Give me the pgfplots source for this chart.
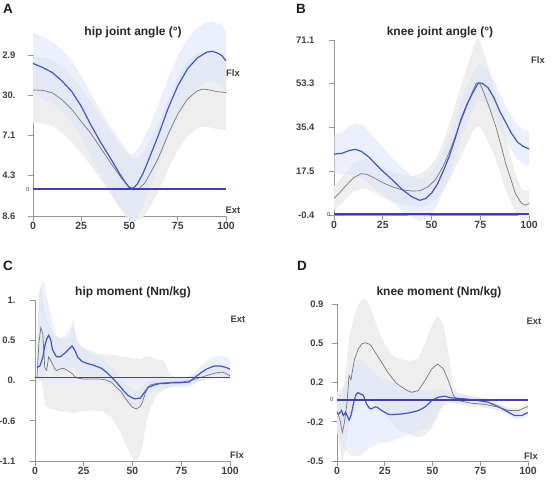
\documentclass[border=0pt]{standalone}
\usepackage{fontspec}
\setmainfont{Liberation Sans}
\usepackage{pgfplots}
\pgfplotsset{compat=1.18}
\usepackage{pgfplotstable}
\usepgfplotslibrary{fillbetween}

\definecolor{bl}{RGB}{66,86,196}
\definecolor{zl}{RGB}{70,62,168}
\definecolor{bband}{RGB}{220,227,249}
\definecolor{gband}{RGB}{238,238,238}
\definecolor{gl}{RGB}{120,120,120}
\definecolor{ax}{RGB}{150,150,150}

\pgfplotstableread{
x y
0 0
100 0
}\Zero

% ---------- Panel A: hip joint angle ----------
\pgfplotstableread{
x m lo hi
0 40.2 30.4 50.0
5 38.9 29.1 48.7
10 37.3 27.5 47.1
15 34.6 24.8 44.4
20 31.3 21.5 41.1
25 26.5 16.7 36.3
30 20.5 10.5 30.5
35 15.0 4.8 25.2
40 10.0 -0.5 20.5
45 4.8 -6.2 15.8
48 2.0 -9.0 13.0
50 0.4 -10.6 11.4
52 0.3 -10.7 11.3
54 1.6 -9.4 12.6
57 5.0 -5.5 15.5
60 9.5 -0.5 19.5
65 17.3 7.5 27.1
70 25.8 16.2 35.4
75 33.0 23.4 42.6
80 38.4 28.8 48.0
85 41.9 32.3 51.5
90 43.8 34.2 53.4
93 44.1 34.5 53.7
96 43.4 33.8 53.0
98 42.6 33.0 52.2
100 41.0 31.4 50.6
}\Abl
\pgfplotstableread{
x m lo hi
0 31.7 21.1 42.3
5 31.6 21.0 42.2
10 30.8 20.2 41.4
15 28.6 18.1 39.1
20 25.6 15.2 36.0
25 21.6 11.3 31.9
30 17.8 7.6 28.0
35 13.2 3.1 23.3
40 8.6 -1.4 18.6
45 4.2 -5.8 14.2
49 1.2 -8.8 11.2
52 -0.3 -10.3 9.7
55 0.2 -9.9 10.3
58 2.0 -8.3 12.3
62 6.5 -4.1 17.1
65 10.0 -0.8 20.8
70 17.5 6.3 28.7
75 24.0 12.4 35.6
80 28.8 16.9 40.7
85 31.4 19.4 43.4
88 32.0 20.0 44.0
91 31.8 19.8 43.8
95 31.2 19.2 43.2
100 30.9 18.9 42.9
}\Agr

% ---------- Panel B: knee joint angle ----------
\pgfplotstableread{
x m lo hi
0 24.5 16.7 32.3
4 24.8 16.1 33.5
8 26.0 16.0 36.0
11 26.4 15.8 37.0
14 25.6 14.6 36.6
18 23.2 12.6 33.8
21 20.7 10.4 31.0
25 17.5 7.9 27.1
30 13.9 4.9 22.9
35 10.0 1.2 18.8
40 7.0 -1.6 15.6
44 5.6 -2.9 14.1
47 6.3 -2.1 14.7
50 8.5 0.1 16.9
53 12.2 3.9 20.5
56 17.5 9.3 25.7
59 23.4 15.3 31.5
62 30.5 22.6 38.4
65 38.4 30.6 46.2
68 44.5 36.9 52.1
71 49.3 41.9 56.7
74 53.6 46.3 60.9
76 53.4 46.1 60.7
79 51.6 44.3 58.9
82 47.5 40.3 54.7
85 42.0 34.8 49.2
88 37.5 30.4 44.6
91 33.0 25.9 40.1
94 29.5 22.4 36.6
97 27.6 20.6 34.6
100 26.6 19.6 33.6
}\Bbl
\pgfplotstableread{
x m lo hi
0 6.4 1.4 11.4
3 8.8 3.6 14.0
6 11.5 6.1 16.9
10 14.8 9.1 20.5
14 16.5 10.5 22.5
17 16.2 10.2 22.2
21 14.6 8.6 20.6
25 12.8 6.8 18.8
30 11.1 5.1 17.1
35 9.9 3.9 15.9
40 9.4 3.4 15.4
44 9.5 2.7 16.3
48 11.0 3.6 18.4
52 14.0 5.6 22.4
56 19.5 9.5 29.5
60 27.0 15.0 39.0
64 35.7 21.9 49.5
68 44.0 28.5 59.5
71 50.0 33.5 67.0
73 53.5 35.5 71.5
75 53.0 35.5 70.5
77 49.3 33.0 65.6
80 42.8 27.8 57.8
83 35.7 22.2 49.2
86 27.0 15.0 39.0
88 20.7 9.7 31.7
91 13.5 4.5 22.5
93 8.4 0.4 16.4
96 4.5 -1.5 10.5
98 3.6 -2.0 9.2
100 4.3 -1.2 9.8
}\Bgr

% ---------- Panel C: hip moment ----------
\pgfplotstableread{
x m lo hi
1 0.13 0.0 0.45
2.5 0.15 -0.05 1.15
4 0.26 -0.05 1.25
5 0.41 0.05 1.2
6 0.50 0.15 1.05
7 0.55 0.2 0.95
8 0.50 0.2 0.85
9 0.36 0.1 0.7
11 0.27 0.05 0.55
13 0.27 0.05 0.52
15 0.31 0.08 0.55
17 0.36 0.12 0.6
19 0.41 0.15 0.68
20.5 0.35 0.12 0.6
22 0.26 0.06 0.48
24 0.21 0.03 0.4
27 0.18 0.02 0.34
30 0.16 0.02 0.3
34 0.12 0.0 0.25
37 0.06 -0.05 0.18
39 0.01 -0.1 0.13
42 -0.07 -0.18 0.05
44 -0.13 -0.24 -0.01
46 -0.19 -0.3 -0.07
48 -0.24 -0.36 -0.12
51 -0.28 -0.4 -0.16
54 -0.27 -0.39 -0.15
56 -0.20 -0.31 -0.09
58 -0.13 -0.22 -0.04
61 -0.10 -0.17 -0.03
64 -0.08 -0.14 -0.02
67 -0.08 -0.14 -0.02
70 -0.07 -0.13 -0.01
74 -0.07 -0.13 -0.01
79 -0.06 -0.13 0.01
82 0.00 -0.08 0.08
85 0.06 -0.03 0.15
88 0.11 0.0 0.22
92 0.15 0.03 0.27
95 0.15 0.03 0.28
98 0.13 0.02 0.26
100 0.11 0.0 0.24
}\Cbl
\pgfplotstableread{
x m lo hi
1 0.00 -0.1 0.2
2 0.45 -0.05 1.1
3 0.65 0.0 1.2
4 0.57 -0.15 1.05
4.5 0.35 -0.25 0.95
5 0.13 -0.35 0.85
6 0.09 -0.38 0.75
7 0.27 -0.4 0.7
8.5 0.20 -0.41 0.62
10 0.12 -0.42 0.55
11 0.09 -0.43 0.52
13 0.11 -0.44 0.5
14.5 0.12 -0.45 0.5
16 0.10 -0.45 0.5
18 0.07 -0.46 0.55
19.5 0.04 -0.46 0.75
20 0.02 -0.46 0.74
21 0.00 -0.46 0.5
22 -0.01 -0.45 0.42
25 -0.02 -0.44 0.38
29 -0.02 -0.43 0.34
33 -0.02 -0.44 0.31
36 -0.03 -0.46 0.30
39 -0.06 -0.52 0.30
41 -0.11 -0.6 0.29
44 -0.18 -0.72 0.28
46 -0.26 -0.85 0.27
48 -0.33 -0.95 0.26
50 -0.39 -1.05 0.25
52 -0.41 -1.09 0.25
54 -0.38 -1.0 0.24
55 -0.33 -0.9 0.25
57 -0.17 -0.6 0.27
59 -0.10 -0.4 0.27
62 -0.08 -0.25 0.24
66 -0.07 -0.16 0.22
69 -0.065 -0.13 0.05
72 -0.06 -0.11 0.0
75 -0.06 -0.1 0.0
80 -0.04 -0.08 0.02
85 0.00 -0.05 0.06
90 0.04 -0.02 0.11
93 0.06 0.0 0.14
96 0.07 0.0 0.15
98 0.05 -0.01 0.12
100 0.02 -0.03 0.09
}\Cgr

% ---------- Panel D: knee moment ----------
\pgfplotstableread{
x m lo hi
0 -0.12 -0.3 0.05
1 -0.125 -0.33 0.08
2.4 -0.095 -0.38 0.1
3.3 -0.14 -0.42 0.12
4.5 -0.11 -0.45 0.15
6.3 -0.18 -0.48 0.2
7.3 -0.14 -0.5 0.25
8.3 -0.06 -0.5 0.3
9 -0.006 -0.5 0.33
10 0.05 -0.5 0.35
11 0.065 -0.5 0.36
12 0.055 -0.5 0.36
13.8 0.04 -0.48 0.35
15.5 -0.036 -0.45 0.32
17 -0.075 -0.43 0.28
18 -0.08 -0.42 0.26
20 -0.062 -0.4 0.24
21 -0.065 -0.4 0.22
23.4 -0.095 -0.38 0.2
27 -0.13 -0.38 0.17
30 -0.13 -0.36 0.14
34 -0.125 -0.33 0.1
38 -0.115 -0.3 0.09
42.6 -0.095 -0.28 0.08
46 -0.065 -0.26 0.08
49.6 -0.006 -0.2 0.09
53 0.024 -0.1 0.1
56.5 0.033 -0.05 0.09
58 0.025 -0.03 0.07
60 0.018 -0.03 0.06
67 0.009 -0.03 0.05
74 -0.006 -0.04 0.03
79 -0.02 -0.05 0.01
84.5 -0.06 -0.09 -0.03
89.7 -0.11 -0.14 -0.08
93 -0.14 -0.17 -0.11
96.7 -0.14 -0.17 -0.11
99 -0.12 -0.15 -0.09
100 -0.115 -0.14 -0.09
}\Dbl
\pgfplotstableread{
x m lo hi
0 -0.10 -0.25 0.08
1.6 -0.18 -0.45 0.05
2.8 -0.29 -0.55 0.05
3.8 -0.21 -0.5 0.15
5.2 -0.036 -0.35 0.35
6.3 0.217 -0.2 0.55
7.3 0.18 -0.18 0.62
9 0.35 -0.1 0.75
11 0.45 -0.05 0.85
13 0.50 0.0 0.89
14.7 0.51 0.02 0.9
16.5 0.50 0.02 0.86
18 0.48 0.0 0.8
20.5 0.41 -0.05 0.68
23.4 0.335 -0.1 0.55
26 0.26 -0.15 0.47
28.6 0.20 -0.2 0.41
31 0.15 -0.25 0.38
34 0.113 -0.28 0.36
37 0.08 -0.3 0.35
39 0.068 -0.32 0.35
42.6 0.083 -0.33 0.37
46 0.172 -0.32 0.5
49.6 0.276 -0.25 0.66
52.7 0.32 -0.15 0.75
55.7 0.276 -0.02 0.68
58.3 0.172 0.01 0.42
61 0.039 -0.02 0.12
63.5 -0.006 -0.04 0.06
70.5 -0.03 -0.06 0.03
77.5 -0.04 -0.07 0.0
84.5 -0.065 -0.09 -0.04
89.7 -0.095 -0.12 -0.07
95 -0.095 -0.12 -0.07
99 -0.065 -0.09 -0.04
100 -0.06 -0.085 -0.035
}\Dgr

\pgfplotsset{
  panel/.style={
    scale only axis, clip=false, anchor=south west,
    xmin=0, xmax=100, enlargelimits=false,
    axis x line*=bottom, axis y line*=left,
    axis line style={ax, line width=0.8pt, -},
    xtick={0,25,50,75,100},
    tick style={ax, line width=0.8pt},
    tick align=outside, major tick length=5bp,
    /pgf/number format/assume math mode=true,
    xticklabel style={font=\fontsize{10.5}{12}\selectfont\bfseries, text=black!75, yshift=2bp},
    yticklabel style={font=\fontsize{9.5}{11}\selectfont\bfseries, text=black!75},
  },
  zeroline/.style={draw={rgb,255:red,70;green,62;blue,168}, line width=1.7pt, mark=none},
}

% #1 blue table, #2 grey table, #3 unique prefix for path names
\newcommand{\drawpanel}[3]{%
  \addplot[name path=#3gh, draw=none, forget plot] table[x=x,y=hi]{#2};
  \addplot[name path=#3gl, draw=none, forget plot] table[x=x,y=lo]{#2};
  \addplot[gband, forget plot] fill between[of=#3gh and #3gl];
  \addplot[name path=#3bh, draw=none, forget plot] table[x=x,y=hi]{#1};
  \addplot[name path=#3bl, draw=none, forget plot] table[x=x,y=lo]{#1};
  \addplot[bband, fill opacity=0.55, forget plot] fill between[of=#3bh and #3bl];
  \addplot[gl, line width=0.7pt] table[x=x,y=m]{#2};
  \addplot[bl, line width=1.2pt] table[x=x,y=m]{#1};
  \addplot[zeroline] table[x=x,y=y]{\Zero};
}

\begin{document}
\begin{tikzpicture}

% Panel A
\begin{axis}[panel, at={(33bp,-216bp)}, width=193bp, height=161bp,
  ymin=-8.6, ymax=42.9, ytick={-8.6,4.3,17.1,30,42.9},
  yticklabels={8.6,4.3,7.1,30.,2.9}, yticklabel style={xshift=-9bp}]
  \drawpanel{\Abl}{\Agr}{pa}
  \node[font=\fontsize{6}{7}\selectfont, text=black!75, anchor=east] at (axis cs:0,0) {0};
\end{axis}

% Panel B
\begin{axis}[panel, at={(334bp,-215bp)}, width=195bp, height=175bp,
  ymin=-0.4, ymax=71.1, ytick={-0.4,17.5,35.4,53.3,71.1},
  yticklabels={-0.4,17.5,35.4,53.3,71.1}, yticklabel style={xshift=-11bp}]
  \drawpanel{\Bbl}{\Bgr}{pb}
  \node[font=\fontsize{6}{7}\selectfont, text=black!75, anchor=east] at (axis cs:0,0) {0};
\end{axis}

% Panel C
\begin{axis}[panel, at={(35bp,-461bp)}, width=195bp, height=161bp,
  ymin=-1.09, ymax=1.01, ytick={-1.09,-0.565,-0.04,0.485,1.01},
  yticklabels={-1.1,-0.6,0.,0.5,1.}, yticklabel style={xshift=-11bp}]
  \drawpanel{\Cbl}{\Cgr}{pc}
  \addplot[zeroline] table[x=x,y=y]{\Zero};
\end{axis}

% Panel D
\begin{axis}[panel, at={(337bp,-461bp)}, width=191bp, height=157bp,
  ymin=-0.545, ymax=0.855, ytick={-0.545,-0.195,0.155,0.505,0.855},
  yticklabels={-0.5,-0.2,0.2,0.5,0.9}, yticklabel style={xshift=-5bp}]
  \drawpanel{\Dbl}{\Dgr}{pd}
  \node[font=\fontsize{6}{7}\selectfont, text=black!75, anchor=east] at (axis cs:0,0) {0};
\end{axis}

% Titles
\begin{scope}[every node/.style={font=\fontsize{12}{14}\selectfont\bfseries, text=black!85}]
\node at (133bp,-32bp) {hip joint angle (°)};
\node at (440bp,-32bp) {knee joint angle (°)};
\node at (133bp,-292bp) {hip moment (Nm/kg)};
\node at (439bp,-292bp) {knee moment (Nm/kg)};
\end{scope}

% Panel letters
\begin{scope}[every node/.style={font=\fontsize{13.5}{15}\selectfont\bfseries, text=black!90}]
\node at (8bp,-9bp) {A};
\node at (301bp,-9bp) {B};
\node at (8bp,-266bp) {C};
\node at (302bp,-266bp) {D};
\end{scope}

% Flx / Ext
\begin{scope}[every node/.style={font=\fontsize{9.5}{11}\selectfont\bfseries, text=black!75}]
\node at (233bp,-73bp) {Flx};
\node at (233bp,-210bp) {Ext};
\node at (538bp,-60bp) {Flx};
\node at (238bp,-319bp) {Ext};
\node at (237bp,-455bp) {Flx};
\node at (534bp,-321bp) {Ext};
\node at (531bp,-456bp) {Flx};
\end{scope}

\pgfresetboundingbox
\path[use as bounding box] (0,0) rectangle (552bp,-486bp);
\end{tikzpicture}
\end{document}
